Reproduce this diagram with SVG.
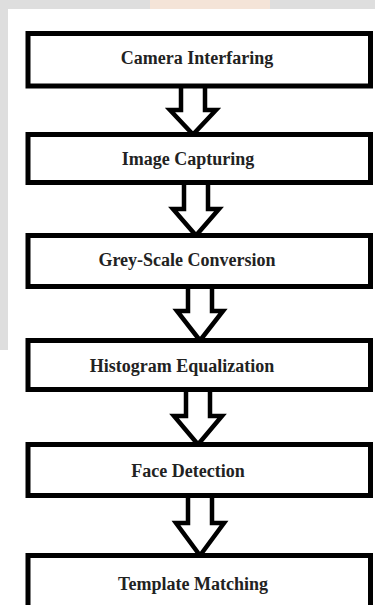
<svg xmlns="http://www.w3.org/2000/svg" width="375" height="605" viewBox="0 0 375 605">
<style>
.box{fill:#fff;stroke:#000;stroke-width:5}
.arr{fill:#fff;stroke:#000;stroke-width:4.5;stroke-linejoin:miter}
.lbl{font-family:"Liberation Serif","Times New Roman",serif;font-weight:bold;font-size:18px;fill:#222;text-anchor:middle}
</style>
<rect x="0" y="0" width="375" height="605" fill="#ffffff"/>
<path d="M0 0H375V9H8V350H0Z" fill="#dedede"/>
<rect x="150" y="0" width="120" height="9" fill="#f4e4d8"/>
<g id="connectors">
<path class="arr" d="M181 86V110H170L193 134.5L216 110H205V86"/>
<path class="arr" d="M184 182V209H173L196 235.5L219 209H208V182"/>
<path class="arr" d="M188 286V311H177L200 340.5L223 311H212V286"/>
<path class="arr" d="M186 389V416H174L198 444.5L222 416H210V389"/>
<path class="arr" d="M188 495V523H176L200 555.5L224 523H212V495"/>
</g>
<g id="n1"><rect class="box" x="28" y="33.5" width="342.5" height="52.5"/><text class="lbl" x="197" y="64">Camera Interfaring</text></g>
<g id="n2"><rect class="box" x="28" y="134.5" width="342.5" height="48"/><text class="lbl" x="188" y="165">Image Capturing</text></g>
<g id="n3"><rect class="box" x="28" y="235.5" width="342.5" height="51"/><text class="lbl" x="187" y="266">Grey-Scale Conversion</text></g>
<g id="n4"><rect class="box" x="28" y="340.5" width="342.5" height="49"/><text class="lbl" x="182" y="372">Histogram Equalization</text></g>
<g id="n5"><rect class="box" x="28" y="444.5" width="342.5" height="51"/><text class="lbl" x="188" y="477">Face Detection</text></g>
<g id="n6"><rect class="box" x="28" y="555.5" width="342.5" height="70"/><text class="lbl" x="193" y="590">Template Matching</text></g>
</svg>
